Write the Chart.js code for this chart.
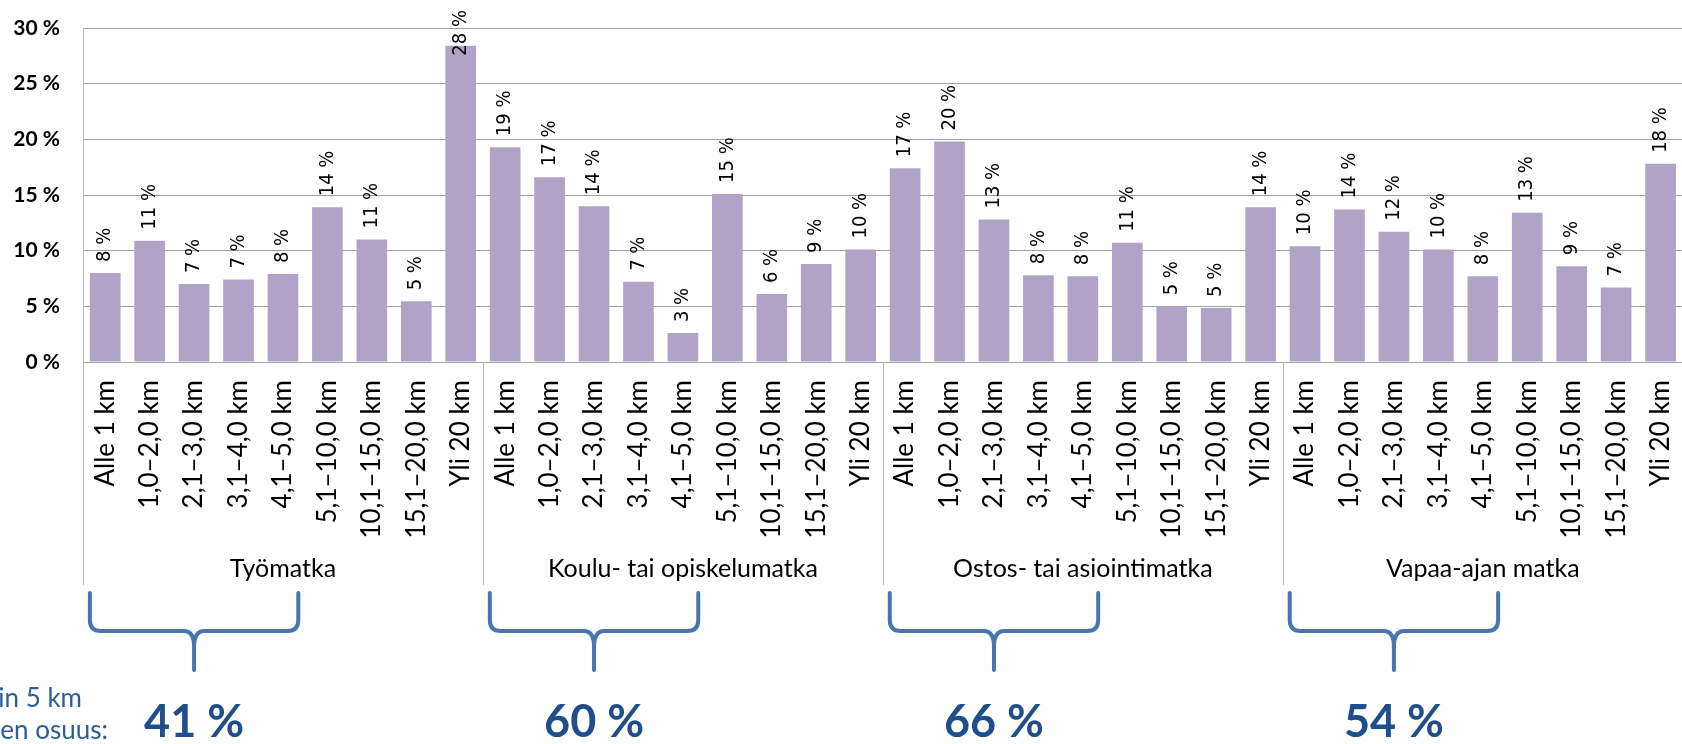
<!DOCTYPE html>
<html>
<head>
<meta charset="utf-8">
<script src="https://cdn.jsdelivr.net/npm/chart.js@4.4.1/dist/chart.umd.min.js"></script>
<style>
  html, body { margin: 0; padding: 0; background: #fff; overflow: hidden; }
  #wrap { position: relative; width: 1710px; height: 744px; }
</style>
</head>
<body>
<div id="wrap"><canvas id="myChart"></canvas></div>
<script>
// matkan pituusluokat ja matkan tarkoitus
var distances = ['Alle 1 km', '1,0–2,0 km', '2,1–3,0 km', '3,1–4,0 km', '4,1–5,0 km',
                 '5,1–10,0 km', '10,1–15,0 km', '15,1–20,0 km', 'Yli 20 km'];
var groupNames = ['Työmatka', 'Koulu- tai opiskelumatka', 'Ostos- tai asiointimatka', 'Vapaa-ajan matka'];

// osuudet (%)
var tyomatka   = [8.0, 10.9, 7.0, 7.4, 7.9, 13.9, 11.0, 5.45, 28.4];
var koulumatka = [19.3, 16.6, 14.0, 7.2, 2.6, 15.1, 6.1, 8.8, 10.1];
var ostosmatka = [17.4, 19.8, 12.8, 7.8, 7.7, 10.7, 5.0, 4.85, 13.9];
var vapaaAika  = [10.4, 13.7, 11.7, 10.1, 7.7, 13.4, 8.6, 6.7, 17.8];

// alle 5 km matkojen osuus
var shortShare = ['41 %', '60 %', '66 %', '54 %'];
var shortText = ['Lyhyempien kuin 5 km', 'matkojen osuus:'];

var yTicks = [0, 5, 10, 15, 20, 25, 30];

var labels = [];
var values = [];
[tyomatka, koulumatka, ostosmatka, vapaaAika].forEach(function (arr) {
    arr.forEach(function (v, i) {
        labels.push(distances[i]);
        values.push(v);
    });
});

var per = distances.length;

// arvot pylväiden päälle pystyyn
var barLabels = {
    id: 'barLabels',
    afterDatasetsDraw: function (chart) {
        var ctx = chart.ctx;
        var meta = chart.getDatasetMeta(0);
        ctx.save();
        ctx.font = '20px "DejaVu Sans Condensed", "DejaVu Sans"';
        ctx.fillStyle = '#000';
        ctx.textAlign = 'left';
        ctx.textBaseline = 'middle';
        meta.data.forEach(function (bar, i) {
            var txt = Math.round(values[i]) + ' %';
            var w = ctx.measureText(txt).width;
            var start = bar.y - 11;
            if (start - w < 10) start = 10 + w;
            ctx.save();
            ctx.translate(bar.x, start);
            ctx.rotate(-Math.PI / 2);
            ctx.fillText(txt, 0, 0);
            ctx.restore();
        });
        ctx.restore();
    }
};

// ryhmien nimet, erotinviivat ja aaltosulkeet
var groupAxis = {
    id: 'groupAxis',
    afterDraw: function (chart) {
        var ctx = chart.ctx;
        var x = chart.scales.x;
        var area = chart.chartArea;
        var meta = chart.getDatasetMeta(0);
        var step = x.getPixelForValue(1) - x.getPixelForValue(0);
        ctx.save();
        ctx.strokeStyle = '#b4b4b4';
        ctx.lineWidth = 1;
        for (var g = 0; g <= groupNames.length; g++) {
            var sx = Math.round(x.getPixelForValue(g * per) - step / 2) + 0.5;
            ctx.beginPath();
            ctx.moveTo(sx, area.bottom);
            ctx.lineTo(sx, 585);
            ctx.stroke();
        }
        ctx.font = '25px Lato';
        ctx.fillStyle = '#000';
        ctx.textAlign = 'center';
        ctx.textBaseline = 'alphabetic';
        groupNames.forEach(function (name, g) {
            var cx = (x.getPixelForValue(g * per) + x.getPixelForValue(g * per + per - 1)) / 2;
            ctx.fillText(name, cx, 577);
        });

        ctx.strokeStyle = '#4a74ad';
        ctx.lineWidth = 4;
        ctx.lineCap = 'round';
        ctx.lineJoin = 'round';
        groupNames.forEach(function (name, g) {
            var b0 = meta.data[g * per];
            var b4 = meta.data[g * per + 4];
            var x0 = b0.x - b0.width / 2;
            var x1 = b4.x + b4.width / 2;
            var xm = (x0 + x1) / 2;
            ctx.beginPath();
            ctx.moveTo(x0, 593);
            ctx.lineTo(x0, 620);
            ctx.quadraticCurveTo(x0, 631, x0 + 11, 631);
            ctx.lineTo(xm - 10, 631);
            ctx.quadraticCurveTo(xm, 631, xm, 647);
            ctx.lineTo(xm, 670);
            ctx.moveTo(xm, 647);
            ctx.quadraticCurveTo(xm, 631, xm + 10, 631);
            ctx.lineTo(x1 - 11, 631);
            ctx.quadraticCurveTo(x1, 631, x1, 620);
            ctx.lineTo(x1, 593);
            ctx.stroke();

            ctx.font = 'bold 45px Lato';
            ctx.fillStyle = '#1f4e8c';
            ctx.textAlign = 'center';
            ctx.fillText(shortShare[g], xm, 737);
        });

        ctx.font = '26px Lato';
        ctx.fillStyle = '#2d5c9a';
        ctx.textAlign = 'right';
        ctx.fillText(shortText[0], 82, 707);
        ctx.fillText(shortText[1], 108, 739);
        ctx.restore();
    }
};

var ctx = document.getElementById('myChart').getContext('2d');
var chart = new Chart(ctx, {
    type: 'bar',
    data: {
        labels: labels,
        datasets: [{
            data: values,
            backgroundColor: '#b1a2c8',
            borderWidth: 0,
            categoryPercentage: 1,
            barPercentage: 0.69
        }]
    },
    options: {
        responsive: true,
        maintainAspectRatio: false,
        animation: false,
        layout: { padding: { top: 28, right: 17.4, left: 0, bottom: 0 } },
        plugins: {
            legend: { display: false },
            tooltip: { enabled: false }
        },
        scales: {
            x: {
                grid: { display: false, drawTicks: false },
                border: { display: true, color: '#a8a8a8' },
                ticks: {
                    autoSkip: false,
                    minRotation: 90,
                    maxRotation: 90,
                    padding: 18,
                    color: '#000',
                    font: { family: 'Lato', size: 26 }
                },
                afterFit: function (scale) { scale.height = 744 - 362; }
            },
            y: {
                min: 0,
                max: 30,
                afterBuildTicks: function (scale) {
                    scale.ticks = yTicks.map(function (v) { return { value: v }; });
                },
                grid: { color: '#a0a0a0', drawTicks: true, tickLength: 23, tickColor: 'rgba(0,0,0,0)' },
                border: { display: true, color: '#bdbdbd' },
                ticks: {
                    padding: 0,
                    color: '#000',
                    font: { family: 'Lato', size: 21, weight: 'bold' },
                    callback: function (v) { return v + ' %'; }
                },
                afterFit: function (scale) { scale.width = 83; }
            }
        }
    },
    plugins: [barLabels, groupAxis]
});
</script>
</body>
</html>
